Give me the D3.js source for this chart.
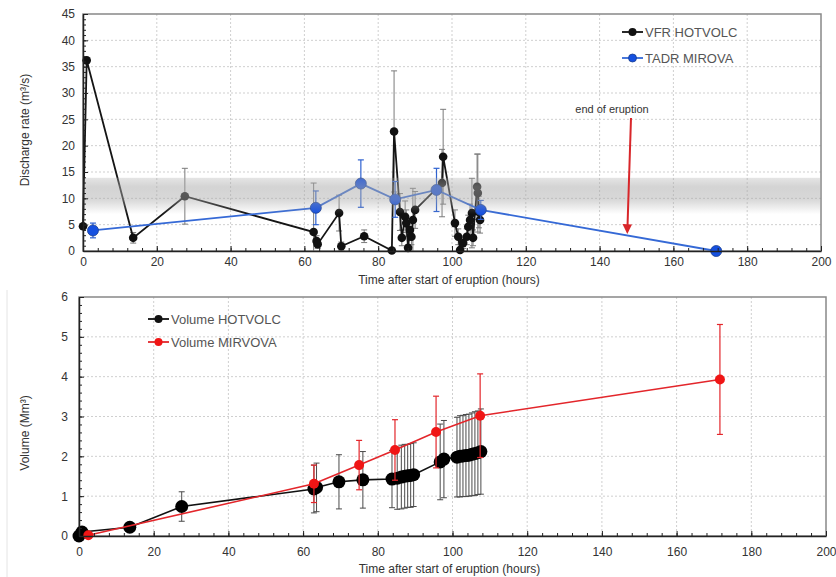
<!DOCTYPE html>
<html>
<head>
<meta charset="utf-8">
<script src="https://cdn.jsdelivr.net/npm/d3@7"></script>
<style>
  body { margin: 0; background: #fff; }
  text { font-family: "Liberation Sans", Arial, sans-serif; }
</style>
</head>
<body>
<svg id="chart" width="836" height="577"></svg>
<script>
// ---- Top panel: discharge rate ----
const vfrTime = [0, 1.0, 13.6, 27.6, 62.5, 63.3, 63.6, 69.4, 70.0, 76.2, 83.7, 84.3,
  85.9, 86.4, 87.3, 87.6, 88.1, 88.6, 89.0, 89.4, 90.0, 97.3, 97.6,
  100.8, 101.7, 102.2, 103.0, 104.0, 104.4, 104.9, 105.4, 105.7, 106.8, 107.0, 107.3, 107.6];
const vfrRate = [4.7, 36.2, 2.5, 10.4, 3.6, 1.9, 1.3, 7.2, 0.9, 2.8, 0.1, 22.7,
  7.4, 2.5, 6.5, 5.3, 0.6, 4.0, 2.7, 5.9, 7.8, 12.9, 17.9,
  5.3, 2.7, 0.2, 1.5, 2.7, 4.6, 5.9, 7.2, 2.5, 12.2, 11.0, 7.4, 5.9];
const vfrErr = [0, 0.4, 1.0, 5.3, 9.3, 1.0, 0.8, 3.4, 0.8, 1.2, 0.1, 11.5,
  3.5, 1.5, 3.0, 2.5, 0.5, 2.0, 1.5, 6.0, 3.5, 6.4, 9.0,
  2.5, 1.5, 0.2, 1.0, 1.5, 2.2, 3.0, 6.6, 1.5, 6.2, 7.4, 3.0, 2.5];

const tadrTime = [2.7, 63.1, 75.3, 84.6, 95.8, 107.8, 171.6];
const tadrRate = [3.9, 8.2, 12.8, 9.8, 11.6, 7.8, 0];
const tadrErr = [1.4, 3.2, 4.5, 3.4, 4.1, 1.8, 0];

// ---- Bottom panel: cumulative volume ----
const volHotTime = [0, 0.8, 13.6, 27.5, 62.9, 63.6, 69.6, 76.0, 83.8, 85.2, 86.3, 87.2, 88.0, 88.8, 89.6,
  96.7, 97.7, 101.2, 102.0, 102.8, 103.6, 104.4, 105.2, 106.0, 106.8, 107.6];
const volHot = [0, 0.1, 0.22, 0.74, 1.18, 1.22, 1.36, 1.41, 1.43, 1.45, 1.48, 1.50, 1.51, 1.52, 1.54,
  1.86, 1.93, 1.98, 2.00, 2.01, 2.02, 2.03, 2.05, 2.07, 2.09, 2.12];
const volHotErr = [0, 0, 0, 0.37, 0.6, 0.61, 0.68, 0.71, 0.72, 0.78, 0.8, 0.8, 0.79, 0.8, 0.8,
  0.95, 0.97, 1.0, 1.02, 1.02, 1.03, 1.03, 1.04, 1.05, 1.05, 1.07];

const volMirTime = [2.5, 62.9, 75.0, 84.6, 95.6, 107.4, 171.6];
const volMir = [0.02, 1.31, 1.78, 2.16, 2.61, 3.02, 3.93];
const volMirErr = [0, 0.47, 0.62, 0.76, 0.9, 1.05, 1.38];

const xTicks = [0, 20, 40, 60, 80, 100, 120, 140, 160, 180, 200];
const rateTicks = [0, 5, 10, 15, 20, 25, 30, 35, 40, 45];
const volTicks = [0, 1, 2, 3, 4, 5, 6];

const svg = d3.select('#chart');

// gradient for the grey reference band
const grad = svg.append('defs').append('linearGradient')
  .attr('id', 'band').attr('x1', 0).attr('x2', 0).attr('y1', 0).attr('y2', 1);
grad.append('stop').attr('offset', '0%').attr('stop-color', '#a8a8a8').attr('stop-opacity', 0.3);
grad.append('stop').attr('offset', '25%').attr('stop-color', '#a8a8a8').attr('stop-opacity', 0.5);
grad.append('stop').attr('offset', '60%').attr('stop-color', '#a8a8a8').attr('stop-opacity', 0.45);
grad.append('stop').attr('offset', '100%').attr('stop-color', '#a8a8a8').attr('stop-opacity', 0);

function zip(t, v, e) {
  return t.map((d, i) => ({x: d, y: v[i], e: e ? e[i] : 0}));
}

// Draws frame and grid for one panel, returns scales and an axes() drawer
function panel(g, o) {
  const x = d3.scaleLinear().domain([0, 200]).range([o.left, o.right]);
  const y = d3.scaleLinear().domain([0, o.yMax]).range([o.bottom, o.top]);
  // grid
  g.append('g').selectAll('line').data(xTicks.slice(1, -1)).join('line')
    .attr('x1', d => x(d)).attr('x2', d => x(d)).attr('y1', o.top).attr('y2', o.bottom)
    .attr('stroke', '#cfcfcf').attr('stroke-dasharray', '2,2');
  g.append('g').selectAll('line').data(o.yTicks.slice(1, -1)).join('line')
    .attr('x1', o.left).attr('x2', o.right).attr('y1', d => y(d)).attr('y2', d => y(d))
    .attr('stroke', '#cfcfcf').attr('stroke-dasharray', '2,2');
  // frame
  g.append('rect').attr('x', o.left).attr('y', o.top)
    .attr('width', o.right - o.left).attr('height', o.bottom - o.top)
    .attr('fill', 'none').attr('stroke', '#888').attr('stroke-width', 1.5);
  return {x: x, y: y, axes: function() {
    const xa = g.append('g').attr('transform', 'translate(0,' + o.bottom + ')')
      .call(d3.axisBottom(x).tickValues(d3.range(0, 201, 4)).tickSize(-3).tickFormat(''));
    xa.select('.domain').remove();
    xa.selectAll('line').attr('stroke', '#222');
    const xb = g.append('g').attr('transform', 'translate(0,' + o.bottom + ')')
      .call(d3.axisBottom(x).tickValues(xTicks).tickSizeInner(-5).tickSizeOuter(0)
        .tickPadding(o.xPad).tickFormat(d3.format('d')));
    xb.select('.domain').attr('stroke', '#222').attr('stroke-width', 1.5);
    xb.selectAll('line').attr('stroke', '#222');
    xb.selectAll('text').attr('font-size', 12).attr('fill', '#333')
      .attr('font-family', '"Liberation Sans", Arial, sans-serif');
    const ya = g.append('g').attr('transform', 'translate(' + o.left + ',0)')
      .call(d3.axisLeft(y).tickValues(d3.range(0, o.yMax + 1e-9, o.yMinor)).tickSize(-3).tickFormat(''));
    ya.select('.domain').remove();
    ya.selectAll('line').attr('stroke', '#222');
    const yb = g.append('g').attr('transform', 'translate(' + o.left + ',0)')
      .call(d3.axisLeft(y).tickValues(o.yTicks).tickSizeInner(-5).tickSizeOuter(0)
        .tickPadding(o.yPad).tickFormat(d3.format('d')));
    yb.select('.domain').attr('stroke', '#222').attr('stroke-width', 1.5);
    yb.selectAll('line').attr('stroke', '#222');
    yb.selectAll('text').attr('font-size', 12).attr('fill', '#333')
      .attr('font-family', '"Liberation Sans", Arial, sans-serif');
    g.append('text').attr('x', (o.left + o.right) / 2 - 3).attr('y', o.bottom + o.titleOff)
      .attr('text-anchor', 'middle').attr('font-size', 12).attr('fill', '#333').text(o.xTitle);
    g.append('text').attr('transform', 'translate(29,' + o.yTitleY + ') rotate(-90)')
      .attr('text-anchor', 'middle').attr('font-size', 12).attr('fill', '#333').text(o.yTitle);
  }};
}

function errorBars(g, s, data, color, width) {
  const eb = g.append('g').attr('stroke', color).attr('stroke-width', width);
  const pts = data.filter(d => d.e > 0);
  eb.selectAll('.v').data(pts).join('line')
    .attr('x1', d => s.x(d.x)).attr('x2', d => s.x(d.x))
    .attr('y1', d => s.y(Math.max(0, d.y - d.e))).attr('y2', d => s.y(d.y + d.e));
  eb.selectAll('.t').data(pts).join('line')
    .attr('x1', d => s.x(d.x) - 3).attr('x2', d => s.x(d.x) + 3)
    .attr('y1', d => s.y(d.y + d.e)).attr('y2', d => s.y(d.y + d.e));
  eb.selectAll('.b').data(pts.filter(d => d.y - d.e > 0)).join('line')
    .attr('x1', d => s.x(d.x) - 3).attr('x2', d => s.x(d.x) + 3)
    .attr('y1', d => s.y(d.y - d.e)).attr('y2', d => s.y(d.y - d.e));
}

function series(g, s, data, color, width, r, fill, stroke) {
  g.append('path').datum(data)
    .attr('d', d3.line().x(d => s.x(d.x)).y(d => s.y(d.y)))
    .attr('fill', 'none').attr('stroke', color).attr('stroke-width', width);
  g.append('g').selectAll('circle').data(data).join('circle')
    .attr('cx', d => s.x(d.x)).attr('cy', d => s.y(d.y)).attr('r', r)
    .attr('fill', fill).attr('stroke', stroke || 'none').attr('stroke-width', 0.8);
}

function legendItem(g, x, y, color, fill, stroke, label) {
  g.append('line').attr('x1', x).attr('x2', x + 21).attr('y1', y).attr('y2', y)
    .attr('stroke', color).attr('stroke-width', 1.8);
  g.append('circle').attr('cx', x + 10.5).attr('cy', y).attr('r', 4).attr('fill', fill)
    .attr('stroke', stroke).attr('stroke-width', 0.8);
  g.append('text').attr('x', x + 23).attr('y', y + 4.5).attr('font-size', 13).attr('fill', '#555').text(label);
}

// ---- top ----
const gTop = svg.append('g');
const sTop = panel(gTop, {left: 83, right: 821, bottom: 251, top: 14, yMax: 45,
  yTicks: rateTicks, yMinor: 1, xPad: 6, yPad: 8, titleOff: 33,
  xTitle: 'Time after start of eruption (hours)', yTitle: 'Discharge rate (m³/s)', yTitleY: 130});
const vfr = zip(vfrTime, vfrRate, vfrErr);
const tadr = zip(tadrTime, tadrRate, tadrErr);
errorBars(gTop, sTop, vfr, '#7a7a7a', 1);
series(gTop, sTop, vfr, '#151515', 1.8, 4.3, '#111');
errorBars(gTop, sTop, tadr, '#2f62d0', 1.2);
series(gTop, sTop, tadr, '#3569d6', 1.8, 5.5, '#1550e0', '#1b3f8f');
// grey band drawn over the marks
gTop.append('rect').attr('x', sTop.x(0) + 1).attr('width', sTop.x(200) - sTop.x(0) - 2)
  .attr('y', sTop.y(13.9)).attr('height', sTop.y(7.0) - sTop.y(13.9))
  .attr('fill', 'url(#band)');
sTop.axes();
legendItem(gTop, 622, 32, '#111', '#111', 'none', 'VFR HOTVOLC');
legendItem(gTop, 622, 58, '#3569d6', '#1550e0', '#1b3f8f', 'TADR MIROVA');
// annotation
gTop.append('text').attr('x', 612).attr('y', 113).attr('text-anchor', 'middle')
  .attr('font-size', 11).attr('fill', '#333').text('end of eruption');
gTop.append('line').attr('x1', 631).attr('y1', 118).attr('x2', 627.5).attr('y2', 226)
  .attr('stroke', '#d8262a').attr('stroke-width', 2);
gTop.append('path').attr('d', 'M622.5,224 L627.3,234 L632,224.5 Z').attr('fill', '#d8262a');

// ---- bottom ----
const gBot = svg.append('g');
gBot.append('line').attr('x1', 7).attr('x2', 7).attr('y1', 290).attr('y2', 577)
  .attr('stroke', '#e4e4e4');
const sBot = panel(gBot, {left: 79, right: 826, bottom: 536, top: 297, yMax: 6,
  yTicks: volTicks, yMinor: 0.2, xPad: 11, yPad: 11, titleOff: 37,
  xTitle: 'Time after start of eruption (hours)', yTitle: 'Volume (Mm³)', yTitleY: 433});
const hot = zip(volHotTime, volHot, volHotErr);
const mir = zip(volMirTime, volMir, volMirErr);
errorBars(gBot, sBot, hot, '#4a4a4a', 1);
series(gBot, sBot, hot, '#111', 1.6, 6.5, '#000');
errorBars(gBot, sBot, mir, '#e3262b', 1.2);
series(gBot, sBot, mir, '#e3262b', 1.6, 5, '#f01515');
sBot.axes();
legendItem(gBot, 148, 319, '#111', '#111', 'none', 'Volume HOTVOLC');
legendItem(gBot, 148, 342, '#e3262b', '#f01515', 'none', 'Volume MIRVOVA');
</script>
</body>
</html>
